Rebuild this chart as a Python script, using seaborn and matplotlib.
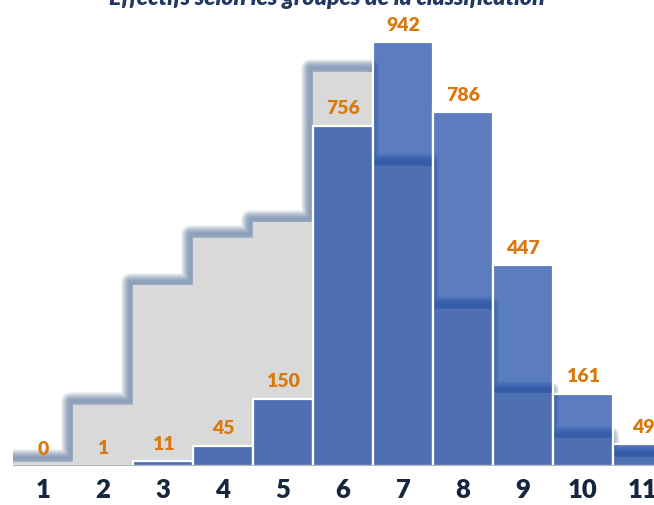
import matplotlib
matplotlib.use("Agg")
import matplotlib.pyplot as plt
import matplotlib.transforms as mtransforms
import numpy as np
import pandas as pd
import seaborn as sns

# ---- data ----
groupes = ["1", "2", "3", "4", "5", "6", "7", "8", "9", "10", "11"]
effectifs = [0, 1, 11, 45, 150, 756, 942, 786, 447, 161, 49]
# grey stepped background series (same scale as the bars)
reference = [9, 136, 402, 507, 542, 876, 667, 349, 162, 62, 20]
titre = "Effectifs selon les groupes de la classification"

sns.set_theme(style="white")
plt.rcParams["font.family"] = ["Lato", "DejaVu Sans"]

df = pd.DataFrame({"groupe": groupes, "effectif": effectifs})

fig = plt.figure(figsize=(6.54, 5.05), dpi=100)
ax = fig.add_axes([13 / 654, 39 / 505, 641 / 654, 450 / 505])

# grey stepped area
edges = np.arange(len(reference) + 1) - 0.5
ref_ext = list(reference) + [reference[-1]]

# blurred shadow of the grey area outline (up-left)
tr = mtransforms.offset_copy(ax.transData, fig=fig, x=-3.5, y=3.5, units="dots")
for lw in np.linspace(13, 2, 12):
    ax.step(edges, ref_ext, where="post", color="#4F6C96", lw=lw, alpha=0.08,
            transform=tr, zorder=1, solid_joinstyle="round", solid_capstyle="butt")
ax.fill_between(edges, 0, ref_ext, step="post", color="#D9D9D9", lw=0, zorder=2)

# bars
sns.barplot(data=df, x="groupe", y="effectif", ax=ax, width=1.0,
            color="#0739A0", edgecolor="white", linewidth=1.6, zorder=3)
for p in ax.patches:
    p.set_facecolor((7 / 255, 57 / 255, 160 / 255, 0.66))
    p.set_edgecolor("white")

ax.bar_label(ax.containers[0], labels=[str(v) for v in effectifs], padding=6,
             color="#D9790F", fontsize=14, fontweight="heavy", zorder=5)

ax.axhline(0, color="#A6A6A6", lw=1.2, zorder=4)

ax.set_xlim(-0.5, -0.5 + 641 / 60)
ax.set_ylim(0, 1000)
ax.set_yticks([])
ax.set_xlabel("")
ax.set_ylabel("")
for s in ax.spines.values():
    s.set_visible(False)
ax.tick_params(axis="x", length=0, pad=9, labelsize=18.5, labelcolor="#16263F")
for t in ax.get_xticklabels():
    t.set_fontweight("heavy")

fig.text(0.5, 1 - 5 / 505, titre, ha="center", va="baseline", fontsize=16.5,
         fontweight="heavy", fontstyle="italic", color="#1F3864")

fig.savefig("out.png", dpi=100)
